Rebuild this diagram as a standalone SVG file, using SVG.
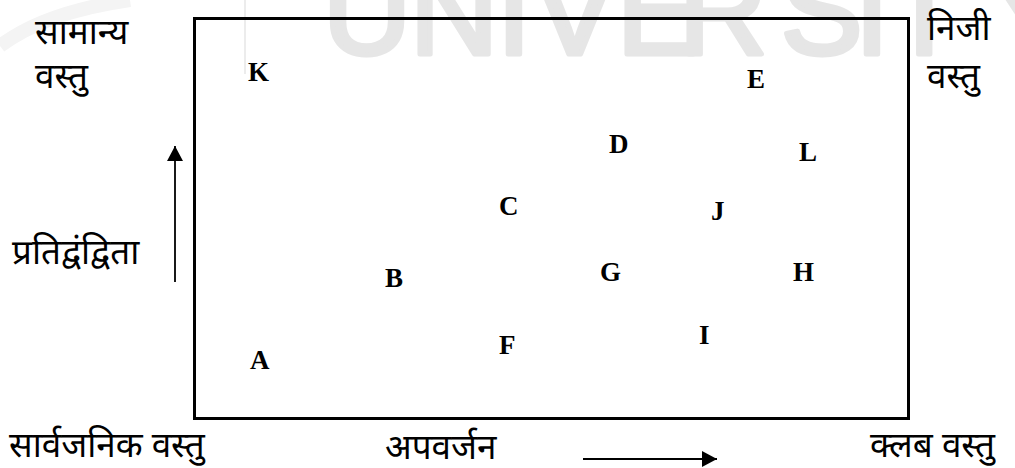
<svg xmlns="http://www.w3.org/2000/svg" width="1015" height="468" viewBox="0 0 1015 468">
  <style>
    .mark { fill: #e6e6e6; stroke: #e6e6e6; stroke-width: 5; stroke-linejoin: round; font-family: "Liberation Sans", Arial, sans-serif; font-size: 122px; }
    .pt { font-family: "Liberation Serif", "Times New Roman", serif; font-weight: bold; font-size: 27px; fill: #000; }
    .hi { font-family: "Noto Sans", "Lohit Devanagari", sans-serif; font-size: 35px; fill: #000; }
    .axis { stroke: #000; stroke-width: 1.8; fill: none; }
  </style>
  <defs>
    <marker id="head" markerWidth="15" markerHeight="16" refX="15" refY="8" orient="auto" markerUnits="userSpaceOnUse" viewBox="0 0 15 16">
      <path d="M0,0 L15,8 L0,16 Z" fill="#000"/>
    </marker>
  </defs>
  <rect width="1015" height="468" fill="#fff"/>

  <!-- background watermark -->
  <g id="watermark">
    <path d="M0,46 Q45,12 130,0" stroke="#f4f4f4" stroke-width="14" fill="none"/>
    <line x1="245" y1="0" x2="245" y2="74" stroke="#e6e6e6" stroke-width="1.5"/>
    <text class="mark" x="323 410 497 534 617 679 781 855 887 986" y="54">UNIVERSITY</text>
  </g>

  <!-- frame -->
  <g id="frame">
    <rect x="194.5" y="18.5" width="714" height="400" fill="none" stroke="#000" stroke-width="3"/>
  </g>

  <!-- goods plotted in the frame -->
  <g id="K"><text class="pt" x="248" y="81">K</text></g>
  <g id="E"><text class="pt" x="747" y="88">E</text></g>
  <g id="D"><text class="pt" x="609" y="153">D</text></g>
  <g id="L"><text class="pt" x="799" y="161">L</text></g>
  <g id="C"><text class="pt" x="499" y="215">C</text></g>
  <g id="J"><text class="pt" x="711" y="220">J</text></g>
  <g id="B"><text class="pt" x="385" y="287">B</text></g>
  <g id="G"><text class="pt" x="600" y="281">G</text></g>
  <g id="H"><text class="pt" x="793" y="281">H</text></g>
  <g id="I"><text class="pt" x="699" y="344">I</text></g>
  <g id="F"><text class="pt" x="499" y="354">F</text></g>
  <g id="A"><text class="pt" x="250" y="369">A</text></g>

  <!-- corner and axis labels -->
  <g id="common-good">
    <text class="hi" x="35" y="44">सामान्य</text>
    <text class="hi" x="35" y="88">वस्तु</text>
  </g>
  <g id="private-good">
    <text class="hi" x="927" y="40">निजी</text>
    <text class="hi" x="927" y="88">वस्तु</text>
  </g>
  <g id="rivalry"><text class="hi" x="12" y="264">प्रतिद्वंद्विता</text></g>
  <g id="public-good"><text class="hi" x="9" y="457">सार्वजनिक वस्तु</text></g>
  <g id="excludability"><text class="hi" x="385" y="459">अपवर्जन</text></g>
  <g id="club-good"><text class="hi" x="870" y="457">क्लब वस्तु</text></g>

  <!-- axis arrows -->
  <g id="connectors">
    <line class="axis" x1="175" y1="282" x2="175" y2="146" marker-end="url(#head)"/>
    <line class="axis" x1="583" y1="459" x2="717" y2="459" marker-end="url(#head)"/>
  </g>
</svg>
